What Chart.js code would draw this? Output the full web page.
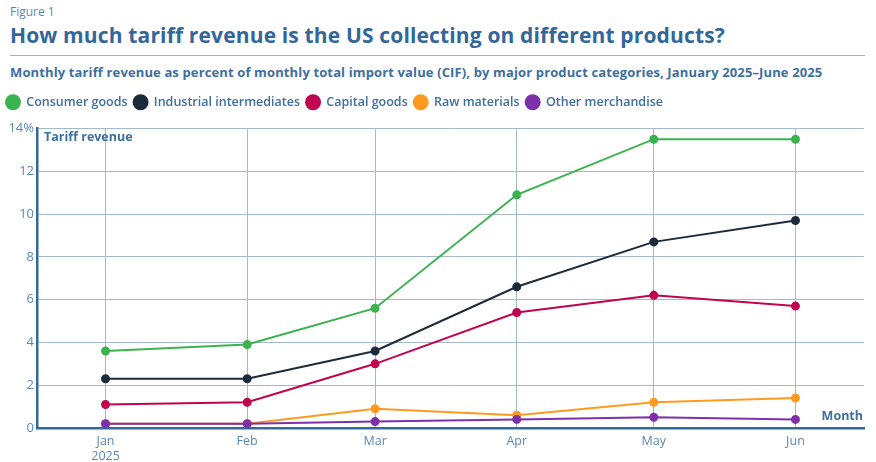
<!DOCTYPE html>
<html>
<head>
<meta charset="utf-8">
<script src="https://cdn.jsdelivr.net/npm/chart.js@4.4.1/dist/chart.umd.min.js"></script>
<style>
  html, body { margin: 0; padding: 0; background: #fff; }
  body { width: 876px; height: 462px; position: relative; overflow: hidden; font-family: "Open Sans", sans-serif; }
  #fig { position: absolute; left: 10px; top: 3px; font-size: 12px; color: #5a88b5; }
  #title { position: absolute; left: 10px; top: 21px; font-size: 21px; font-weight: 700; color: #33679a; white-space: nowrap; letter-spacing: 0.15px; }
  #rule { position: absolute; left: 10px; top: 55px; width: 855px; height: 1px; background: #9fb4c9; }
  #sub { position: absolute; left: 10px; top: 63px; font-size: 13px; font-weight: 700; color: #3d6f9f; white-space: nowrap; letter-spacing: 0.13px; }
  #wrap { position: absolute; left: 0; top: 88px; width: 876px; height: 374px; }
</style>
</head>
<body>
<div id="fig">Figure 1</div>
<div id="title">How much tariff revenue is the US collecting on different products?</div>
<div id="rule"></div>
<div id="sub">Monthly tariff revenue as percent of monthly total import value (CIF), by major product categories, January 2025–June 2025</div>
<div id="wrap"><canvas id="c" width="876" height="374"></canvas></div>
<script>
const months = ['Jan', 'Feb', 'Mar', 'Apr', 'May', 'Jun'];
const year = 2025;
const consumerGoods = [3.6, 3.9, 5.6, 10.9, 13.5, 13.5];
const industrialIntermediates = [2.3, 2.3, 3.6, 6.6, 8.7, 9.7];
const capitalGoods = [1.1, 1.2, 3.0, 5.4, 6.2, 5.7];
const rawMaterials = [0.2, 0.2, 0.9, 0.6, 1.2, 1.4];
const otherMerchandise = [0.2, 0.2, 0.3, 0.4, 0.5, 0.4];
const yTicks = [0, 2, 4, 6, 8, 10, 12, 14];

// Day offset of the first of each month from Jan 1 (time-proportional x positions)
const dayMs = 86400000;
const monthDays = months.map((m, i) => Math.round((new Date(year, i, 1) - new Date(year, 0, 1)) / dayMs));
const pts = arr => arr.map((v, i) => ({ x: monthDays[i], y: v }));

const axisBlue = '#336a9c';
const tickBlue = '#5a88b5';
const gridCol = '#a3b9ce';

const series = [
  { label: 'Consumer goods', data: consumerGoods, color: '#3bb34f', order: 1 },
  { label: 'Industrial intermediates', data: industrialIntermediates, color: '#1c2b3b', order: 2 },
  { label: 'Capital goods', data: capitalGoods, color: '#c0044f', order: 3 },
  { label: 'Raw materials', data: rawMaterials, color: '#ff9a20', order: 5 },
  { label: 'Other merchandise', data: otherMerchandise, color: '#7d30aa', order: 4 }
];

const labelPlugin = {
  id: 'axisTitles',
  afterInit(chart) {
    const lg = chart.legend;
    if (lg && !lg._wrapped) {
      const orig = lg.fit.bind(lg);
      lg.fit = function () { orig(); this.height += 10; };
      lg._wrapped = true;
    }
  },
  afterDraw(chart) {
    const { ctx, chartArea } = chart;
    ctx.save();
    ctx.font = '700 12.5px "Open Sans"';
    ctx.fillStyle = '#3d6f9f';
    ctx.textBaseline = 'middle';
    ctx.textAlign = 'left';
    ctx.fillText('Tariff revenue', chartArea.left + 7, chartArea.top + 9);
    ctx.textAlign = 'right';
    ctx.fillText('Month', chartArea.right - 1, chartArea.bottom - 12);
    ctx.restore();
  }
};

new Chart(document.getElementById('c'), {
  type: 'line',
  data: {
    datasets: series.map(s => ({
      label: s.label,
      data: pts(s.data),
      borderColor: s.color,
      backgroundColor: s.color,
      pointBackgroundColor: s.color,
      pointBorderColor: s.color,
      borderWidth: 2,
      pointRadius: 3.5,
      pointHoverRadius: 3.5,
      tension: 0,
      order: s.order
    }))
  },
  options: {
    responsive: false,
    animation: false,
    devicePixelRatio: 1,
    layout: { padding: { left: 0, right: 12, top: 2, bottom: 0 } },
    plugins: {
      tooltip: { enabled: false },
      legend: {
        position: 'top',
        align: 'start',
        labels: {
          usePointStyle: true,
          pointStyle: 'circle',
          pointStyleWidth: 14,
          boxWidth: 14,
          boxHeight: 10,
          padding: 6,
          color: '#3d6f9f',
          font: { family: '"Open Sans"', size: 12.5, weight: '600' },
          sort: (a, b) => a.datasetIndex - b.datasetIndex
        }
      }
    },
    scales: {
      x: {
        type: 'linear',
        min: -15,
        max: 166,
        afterBuildTicks: s => { s.ticks = monthDays.map(v => ({ value: v })); },
        afterFit: s => { s.height = 34; },
        ticks: {
          padding: 6,
          color: tickBlue,
          font: { family: '"Open Sans"', size: 12.5 },
          maxRotation: 0,
          autoSkip: false,
          callback: v => {
            const i = monthDays.indexOf(v);
            return i === 0 ? [months[i], String(year)] : months[i];
          }
        },
        grid: { color: gridCol, lineWidth: 1, drawTicks: false },
        border: { color: axisBlue, width: 2.5 }
      },
      y: {
        min: 0,
        max: 14,
        afterBuildTicks: s => { s.ticks = yTicks.map(v => ({ value: v })); },
        afterFit: s => { s.width = 37; },
        ticks: {
          padding: 3,
          color: tickBlue,
          font: { family: '"Open Sans"', size: 13 },
          callback: v => v === 14 ? v + '%' : String(v)
        },
        grid: { color: gridCol, lineWidth: 1, drawTicks: false },
        border: { color: axisBlue, width: 2.5 }
      }
    }
  },
  plugins: [labelPlugin]
});
</script>
</body>
</html>
